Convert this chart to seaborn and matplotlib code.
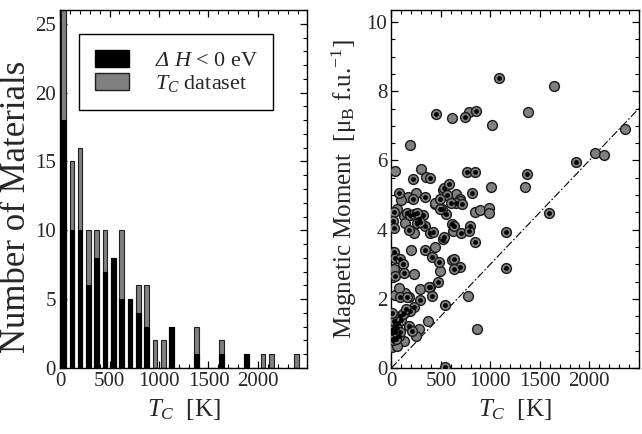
import numpy as np
import seaborn as sns
import matplotlib.pyplot as plt
from matplotlib.patches import Patch
from matplotlib.ticker import MultipleLocator

# histogram of Curie temperatures (bin centres in K)
tc_bins = [35, 119, 203, 287, 371, 455, 539, 623, 707, 791, 875, 959, 1043, 1127,
           1211, 1295, 1379, 1463, 1547, 1631, 1715, 1799, 1883, 1967, 2051, 2135,
           2219, 2303, 2387]
n_total = [26, 15, 16, 10, 10, 10, 8, 10, 5, 6, 6, 2, 2, 3, 0, 0, 3, 0, 0, 2, 0, 0,
           1, 0, 1, 1, 0, 0, 1]
n_stable = [18, 10, 10, 6, 8, 7, 8, 5, 5, 4, 3, 0, 0, 3, 0, 0, 1, 0, 0, 1, 0, 0,
            1, 0, 0, 0, 0, 0, 0]

# magnetic moment vs Tc, materials with dH < 0 (black dot inside)
tc_stable = [1091, 451, 741, 852, 1865, 219, 394, 768, 842, 1370, 529, 586, 74, 812,
             562, 216, 337, 495, 552, 512, 657, 714, 1593, 23, 17, 23, 158, 192, 276,
             259, 320, 343, 175, 394, 417, 522, 529, 613, 636, 707, 791, 781, 842,
             1155, 337, 23, 40, 84, 118, 40, 125, 411, 478, 636, 697, 636, 1162, 468,
             394, 377, 411, 91, 158, 286, 225, 192, 131, 91, 545, 175, 209, 40, 40,
             23, 74, 545, 488, 600, 230, 259, 290, 10, 55, 30, 65, 15, 50, 85, 100,
             115, 150, 10, 5]
m_stable = [8.39, 7.35, 7.27, 7.43, 5.97, 5.45, 5.50, 5.68, 5.68, 5.61, 5.21, 5.33,
            5.06, 5.06, 4.99, 4.90, 4.95, 4.90, 4.46, 4.60, 4.77, 4.73, 4.49, 4.52,
            4.25, 4.05, 4.49, 4.41, 4.31, 4.18, 4.41, 4.10, 3.99, 3.89, 3.93, 3.72,
            3.80, 4.15, 4.10, 3.91, 4.12, 3.96, 3.65, 3.93, 3.40, 3.35, 3.19, 3.14,
            3.00, 2.66, 2.74, 3.22, 3.06, 3.14, 2.93, 2.85, 2.88, 2.49, 2.35, 2.33,
            2.08, 2.04, 2.04, 1.97, 1.75, 1.65, 1.60, 1.51, 1.82, 1.22, 1.08, 1.22,
            1.03, 0.88, 0.93, 0.03, 4.60, 4.77, 4.45, 4.48, 4.21, 1.10, 1.15, 1.35,
            1.30, 0.80, 0.85, 1.05, 1.40, 1.55, 1.70, 1.60, 1.00]

# remaining materials of the Tc dataset
tc_other = [1640, 613, 781, 1380, 1013, 2364, 185, 2054, 2152, 34, 303, 354, 1010,
            1354, 657, 168, 697, 438, 697, 842, 892, 983, 983, 125, 225, 623, 202,
            444, 23, 225, 495, 613, 286, 141, 40, 774, 370, 866, 276, 253, 131, 23,
            17, 444, 140, 60, 100, 250, 520, 80, 180, 10, 60]
m_other = [8.14, 7.22, 7.39, 7.39, 7.02, 6.92, 6.44, 6.23, 6.16, 5.69, 5.76, 5.51,
           5.22, 5.22, 5.03, 4.94, 4.90, 4.75, 4.82, 4.52, 4.58, 4.63, 4.47, 4.39,
           3.89, 3.96, 3.40, 3.50, 2.85, 2.73, 2.80, 3.11, 2.28, 2.18, 2.11, 2.08,
           1.35, 1.14, 1.12, 0.93, 0.79, 0.74, 1.36, 4.77, 4.20, 4.60, 4.85, 5.05,
           5.15, 2.30, 2.05, 0.60, 0.65]

sns.set_style('ticks')
plt.rcParams['font.family'] = ['Liberation Serif', 'DejaVu Serif']
plt.rcParams['mathtext.fontset'] = 'custom'
plt.rcParams['mathtext.rm'] = 'Liberation Serif'
plt.rcParams['mathtext.it'] = 'Liberation Serif:italic'
plt.rcParams['mathtext.sf'] = 'Liberation Serif:italic'
plt.rcParams['mathtext.bf'] = 'Liberation Serif:bold'
plt.rcParams['font.size'] = 14

fig, (ax1, ax2) = plt.subplots(1, 2, figsize=(6.42, 4.34), dpi=100)
fig.subplots_adjust(left=0.0935, right=0.995, bottom=0.152, top=0.977, wspace=0.339)

gray = '#808080'

# left: histogram
sns.barplot(x=tc_bins, y=n_total, native_scale=True, width=0.55, color=gray,
            saturation=1, edgecolor='#202020', linewidth=0.8, ax=ax1)
sns.barplot(x=tc_bins, y=n_stable, native_scale=True, width=0.55, color='black',
            saturation=1, edgecolor='black', linewidth=0.8, ax=ax1)
ax1.set_xlim(0, 2500)
ax1.set_ylim(0, 26)
ax1.set_xticks([0, 500, 1000, 1500, 2000])
ax1.set_yticks([0, 5, 10, 15, 20, 25])
ax1.xaxis.set_minor_locator(MultipleLocator(100))
ax1.yaxis.set_minor_locator(MultipleLocator(1))
ax1.set_xlabel(r'$T_C$  [K]', fontsize=18)
ax1.set_ylabel('Number of Materials', fontsize=25)
ax1.yaxis.set_label_coords(-0.110, 0.45)

handles = [Patch(facecolor='black', edgecolor='black'),
           Patch(facecolor=gray, edgecolor='#202020')]
leg = ax1.legend(handles, [r'$\mathsf{\Delta}\ H$ < 0 eV', r'$T_C$ dataset'],
                 loc='upper left', bbox_to_anchor=(0.077, 0.933), borderaxespad=0,
                 fancybox=False, edgecolor='black', fontsize=16, handlelength=1.55,
                 handleheight=0.8, borderpad=0.7, labelspacing=0.1,
                 handletextpad=1.15, framealpha=1)
leg.get_frame().set_linewidth(1.0)

# right: moment vs Tc
sns.scatterplot(x=tc_other + tc_stable, y=m_other + m_stable, color=gray, s=50,
                edgecolor='#1a1a1a', linewidth=1.0, zorder=3, ax=ax2)
sns.scatterplot(x=tc_stable, y=m_stable, color='black', s=12, linewidth=0,
                zorder=4, ax=ax2)
ax2.axline((0, 0), slope=0.003, color='black', lw=0.8,
           linestyle=(0, (7, 2, 1.5, 2)), zorder=2)
ax2.set_xlim(0, 2500)
ax2.set_ylim(0, 10.35)
ax2.set_xticks([0, 500, 1000, 1500, 2000])
ax2.set_yticks([0, 2, 4, 6, 8, 10])
ax2.xaxis.set_minor_locator(MultipleLocator(100))
ax2.yaxis.set_minor_locator(MultipleLocator(0.5))
ax2.set_xlabel(r'$T_C$  [K]', fontsize=18)
ax2.set_ylabel('Magnetic Moment  [μ$_\\mathrm{B}$ f.u.$^{-1}$]', fontsize=18, labelpad=5)

for ax in (ax1, ax2):
    ax.tick_params(which='both', direction='in', top=True, right=True,
                   labelsize=15, pad=3, color='black')
    ax.tick_params(which='major', length=5, width=0.9)
    ax.tick_params(which='minor', length=2.8, width=0.8)
    for s in ax.spines.values():
        s.set_linewidth(1.0)
        s.set_color('black')

fig.savefig('out.png', dpi=100)
